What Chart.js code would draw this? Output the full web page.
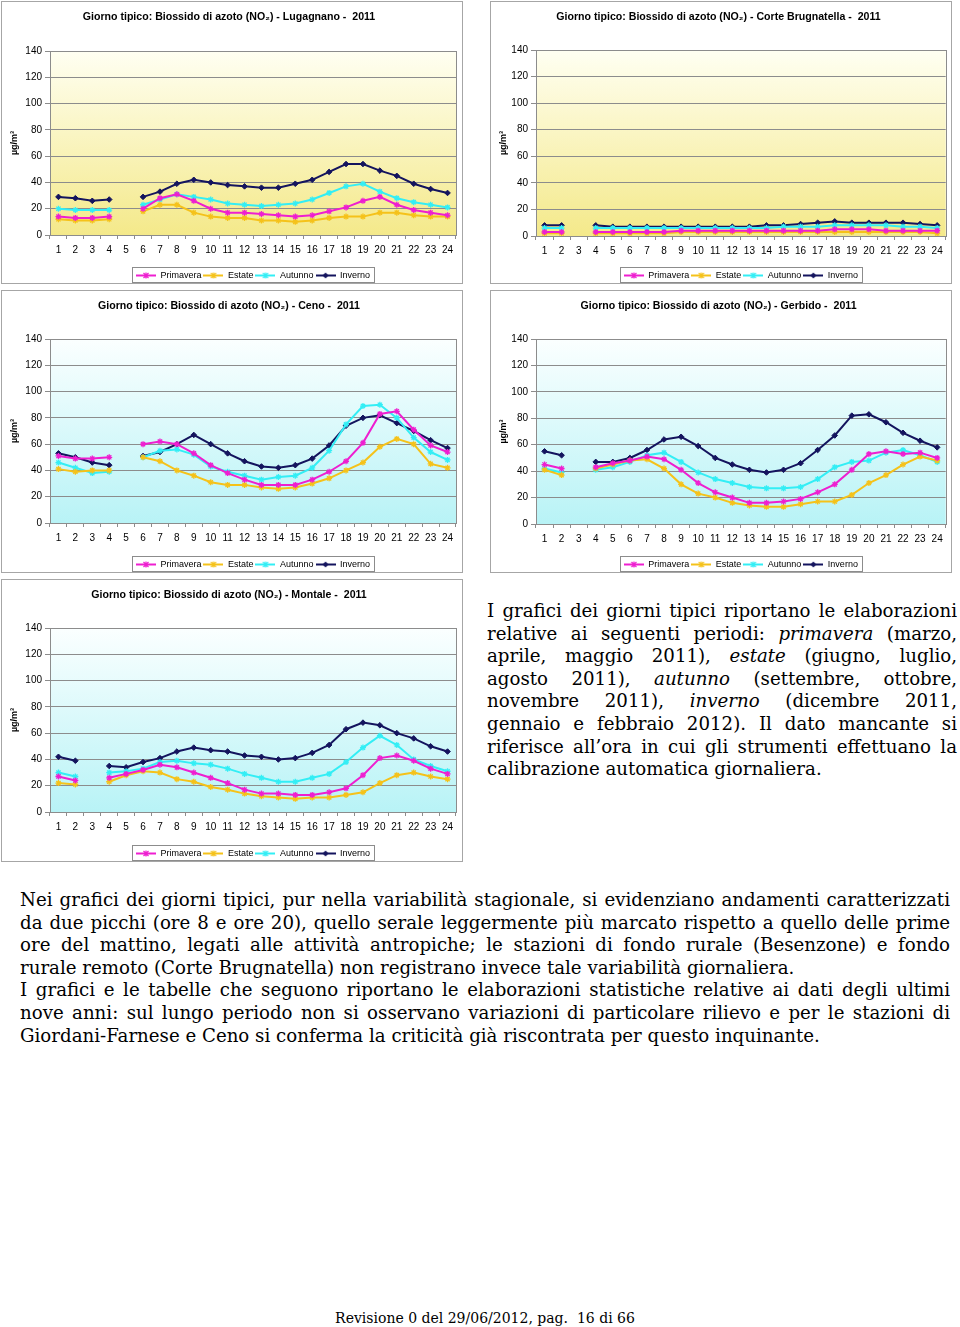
<!DOCTYPE html>
<html lang="it">
<head>
  <meta charset="UTF-8" />
  <title>Giorno tipico: Biossido di azoto (NO2) - 2011</title>
  <script src="https://cdn.jsdelivr.net/npm/chart.js"></script>
  <style>
    body {
      margin: 0;
      width: 960px;
      height: 1327px;
      position: relative;
      background: #fff;
      color: #000;
      font-family: 'DejaVu Serif', serif;
    }

    .panel {
      position: absolute;
      border: 1px solid #a6a6a6;
      background: #fff;
    }

    .panel canvas {
      display: block;
    }

    .testo {
      position: absolute;
      font-size: 18.2px;
      line-height: 22.6px;
    }

    .testo div {
      text-align: justify;
      text-align-last: justify;
    }

    .testo div.ultima {
      text-align-last: left;
    }

    .piede {
      position: absolute;
      left: 0;
      width: 970px;
      top: 1309px;
      text-align: center;
      font-size: 14px;
      line-height: 18px;
    }
  </style>
</head>
<body>
  <div class="panel" style="left:1px; top:1px;"><canvas id="lugagnano" width="460" height="281"></canvas></div>
  <div class="panel" style="left:490px; top:1px;"><canvas id="corte" width="460" height="281"></canvas></div>
  <div class="panel" style="left:1px; top:290px;"><canvas id="ceno" width="460" height="281"></canvas></div>
  <div class="panel" style="left:490px; top:290px;"><canvas id="gerbido" width="460" height="281"></canvas></div>
  <div class="panel" style="left:1px; top:579px;"><canvas id="montale" width="460" height="281"></canvas></div>

  <div class="testo" style="left:487px; top:600px; width:470px;">
    <div>I grafici dei giorni tipici riportano le elaborazioni</div>
    <div>relative ai seguenti periodi: <i>primavera</i> (marzo,</div>
    <div>aprile, maggio 2011), <i>estate</i> (giugno, luglio,</div>
    <div>agosto 2011), <i>autunno</i> (settembre, ottobre,</div>
    <div>novembre 2011), <i>inverno</i> (dicembre 2011,</div>
    <div>gennaio e febbraio 2012). Il dato mancante si</div>
    <div>riferisce all’ora in cui gli strumenti effettuano la</div>
    <div class="ultima">calibrazione automatica giornaliera.</div>
  </div>

  <div class="testo" style="left:20px; top:889px; width:930px;">
    <div>Nei grafici dei giorni tipici, pur nella variabilità stagionale, si evidenziano andamenti caratterizzati</div>
    <div>da due picchi (ore 8 e ore 20), quello serale leggermente più marcato rispetto a quello delle prime</div>
    <div>ore del mattino, legati alle attività antropiche; le stazioni di fondo rurale (Besenzone) e fondo</div>
    <div class="ultima">rurale remoto (Corte Brugnatella) non registrano invece tale variabilità giornaliera.</div>
    <div>I grafici e le tabelle che seguono riportano le elaborazioni statistiche relative ai dati degli ultimi</div>
    <div>nove anni: sul lungo periodo non si osservano variazioni di particolare rilievo e per le stazioni di</div>
    <div class="ultima">Giordani-Farnese e Ceno si conferma la criticità già riscontrata per questo inquinante.</div>
  </div>

  <div class="piede">Revisione 0 del 29/06/2012, pag.&nbsp; 16 di 66</div>

  <script>
    const ore = ['1','2','3','4','5','6','7','8','9','10','11','12','13','14','15','16','17','18','19','20','21','22','23','24'];
    const stagioni = ['Primavera', 'Estate', 'Autunno', 'Inverno'];
    const colori = ['#ee1fd0', '#f5c21a', '#33eef5', '#14145e'];

    // Lugagnano (manca l'ora 5)
    const lugPrimavera = [14, 13, 13, 14, null, 20, 28, 31, 26, 20, 17, 17, 16, 15, 14, 15, 18, 21, 26, 29, 23, 19, 17, 15];
    const lugEstate    = [12, 11, 11, 12, null, 18, 23, 23, 17, 14, 13, 13, 11, 11, 10, 11, 13, 14, 14, 17, 17, 15, 14, 14];
    const lugAutunno   = [20, 19, 19, 19, null, 23, 27, 31, 29, 27, 24, 23, 22, 23, 24, 27, 32, 37, 39, 33, 28, 25, 23, 21];
    const lugInverno   = [29, 28, 26, 27, null, 29, 33, 39, 42, 40, 38, 37, 36, 36, 39, 42, 48, 54, 54, 49, 45, 39, 35, 32];

    // Corte Brugnatella (manca l'ora 3)
    const corPrimavera = [3, 3, null, 3, 3, 3, 3, 3, 4, 4, 4, 4, 4, 4, 4, 4, 4, 5, 5, 5, 4, 4, 4, 4];
    const corEstate    = [2, 2, null, 2, 2, 2, 2, 2, 3, 3, 3, 3, 3, 3, 3, 3, 3, 3, 3, 3, 3, 3, 3, 2];
    const corAutunno   = [6, 6, null, 6, 6, 6, 6, 6, 6, 6, 6, 6, 6, 6, 7, 7, 7, 8, 8, 8, 8, 7, 7, 6];
    const corInverno   = [8, 8, null, 8, 7, 7, 7, 7, 7, 7, 7, 7, 7, 8, 8, 9, 10, 11, 10, 10, 10, 10, 9, 8];

    // Ceno (manca l'ora 5)
    const cenPrimavera = [51, 49, 49, 50, null, 60, 62, 60, 53, 44, 38, 33, 29, 29, 29, 33, 39, 47, 61, 83, 85, 71, 59, 54];
    const cenEstate    = [41, 39, 40, 40, null, 50, 47, 40, 36, 31, 29, 29, 27, 26, 27, 30, 34, 40, 46, 58, 64, 60, 45, 42];
    const cenAutunno   = [46, 42, 38, 39, null, 50, 55, 56, 52, 43, 39, 36, 33, 35, 36, 42, 55, 75, 89, 90, 80, 65, 54, 48];
    const cenInverno   = [53, 50, 46, 44, null, 51, 54, 60, 67, 60, 53, 47, 43, 42, 44, 49, 59, 74, 80, 82, 76, 70, 63, 57];

    // Gerbido (manca l'ora 3)
    const gerPrimavera = [45, 42, null, 43, 46, 48, 51, 49, 41, 31, 24, 20, 16, 16, 17, 19, 24, 30, 41, 53, 55, 53, 54, 50];
    const gerEstate    = [41, 37, null, 42, 45, 48, 49, 42, 30, 23, 20, 16, 14, 13, 13, 15, 17, 17, 22, 31, 37, 45, 51, 48];
    const gerAutunno   = [42, 39, null, 41, 43, 47, 52, 54, 47, 39, 34, 31, 28, 27, 27, 28, 34, 43, 47, 48, 54, 56, 52, 47];
    const gerInverno   = [55, 52, null, 47, 47, 50, 56, 64, 66, 59, 50, 45, 41, 39, 41, 46, 56, 67, 82, 83, 77, 69, 63, 58];

    // Montale (manca l'ora 3)
    const monPrimavera = [27, 24, null, 26, 29, 32, 36, 34, 30, 26, 22, 17, 14, 14, 13, 13, 15, 18, 28, 41, 43, 39, 33, 29];
    const monEstate    = [22, 21, null, 23, 28, 31, 30, 25, 23, 19, 17, 14, 12, 11, 10, 11, 11, 13, 15, 22, 28, 30, 27, 25];
    const monAutunno   = [30, 27, null, 30, 31, 33, 38, 39, 37, 36, 33, 29, 26, 23, 23, 26, 29, 38, 49, 58, 51, 40, 35, 31];
    const monInverno   = [42, 39, null, 35, 34, 38, 41, 46, 49, 47, 46, 43, 42, 40, 41, 45, 51, 63, 68, 66, 60, 56, 50, 46];

    const SANS = "'Liberation Sans', Arial, sans-serif";
    const stiliPunto = ['star', 'star', 'star', 'rectRot'];

    // icone della legenda: tratto di linea con marcatore al centro
    function iconaLegenda(colore, diamante) {
      const c = document.createElement('canvas');
      c.width = 20; c.height = 7;
      const g = c.getContext('2d');
      g.strokeStyle = colore;
      g.fillStyle = colore;
      g.lineWidth = 2;
      g.beginPath(); g.moveTo(0, 3.5); g.lineTo(20, 3.5); g.stroke();
      if (diamante) {
        g.beginPath(); g.moveTo(10, 0.5); g.lineTo(13, 3.5); g.lineTo(10, 6.5); g.lineTo(7, 3.5); g.closePath(); g.fill();
      } else {
        g.lineWidth = 1.2;
        g.beginPath();
        g.moveTo(7.5, 1); g.lineTo(12.5, 6); g.moveTo(12.5, 1); g.lineTo(7.5, 6);
        g.moveTo(10, 0.5); g.lineTo(10, 6.5); g.moveTo(7, 3.5); g.lineTo(13, 3.5);
        g.stroke();
      }
      return c;
    }
    const icone = colori.map((c, i) => iconaLegenda(c, i === 3));

    // sfondo sfumato dell'area del grafico + cornice grigia
    const sfondoPlugin = {
      id: 'sfondo',
      beforeDraw(chart, args, opts) {
        const { ctx, chartArea: a } = chart;
        const grad = ctx.createLinearGradient(0, a.top, 0, a.bottom);
        grad.addColorStop(0, opts.alto);
        grad.addColorStop(1, opts.basso);
        ctx.save();
        ctx.fillStyle = grad;
        ctx.fillRect(a.left, a.top, a.right - a.left, a.bottom - a.top);
        ctx.restore();
      },
      beforeDatasetsDraw(chart) {
        const { ctx, chartArea: a } = chart;
        ctx.save();
        ctx.strokeStyle = '#8c8c8c';
        ctx.lineWidth = 1;
        ctx.strokeRect(Math.round(a.left) + 0.5, Math.round(a.top) + 0.5, Math.round(a.right - a.left), Math.round(a.bottom - a.top));
        ctx.restore();
      },
      afterDraw(chart) {
        // riquadro attorno alla legenda
        const lg = chart.legend;
        if (!lg || !lg.legendHitBoxes.length) return;
        const boxes = lg.legendHitBoxes;
        const x0 = Math.min(...boxes.map(b => b.left)) - 4;
        const x1 = Math.max(...boxes.map(b => b.left + b.width)) + 4;
        const ctx = chart.ctx;
        ctx.save();
        ctx.strokeStyle = '#8c8c8c';
        ctx.lineWidth = 1;
        ctx.strokeRect(Math.round(x0) + 0.5, Math.round(lg.top) - 1.5, Math.round(x1 - x0), 15);
        ctx.restore();
      }
    };

    function disegna(id, titolo, serie, area, alto, basso) {
      const canvas = document.getElementById(id);
      const H = canvas.height;
      new Chart(canvas, {
        type: 'line',
        data: {
          labels: ore,
          datasets: serie.map((d, i) => ({
            label: stagioni[i],
            data: d,
            borderColor: colori[i],
            backgroundColor: colori[i],
            borderWidth: 2,
            pointStyle: stiliPunto[i],
            pointRadius: i === 3 ? 2.8 : 3,
            pointBorderWidth: i === 3 ? 1 : 1.3,
            pointBorderColor: colori[i],
            pointBackgroundColor: colori[i],
            spanGaps: false,
            tension: 0
          }))
        },
        options: {
          responsive: false,
          animation: false,
          layout: { padding: { left: 0, right: canvas.width - area.right, top: 0, bottom: 0 } },
          plugins: {
            title: {
              display: true,
              text: titolo,
              color: '#000',
              font: { family: SANS, size: 10.6, weight: 'bold' },
              padding: { top: 9, bottom: area.top - 9 - 12.72 }
            },
            legend: {
              position: 'bottom',
              fullSize: false,
              maxHeight: 14,
              labels: {
                usePointStyle: true,
                pointStyleWidth: 20,
                padding: 2,
                color: '#000',
                font: { family: SANS, size: 9 },
                generateLabels(chart) {
                  const items = Chart.defaults.plugins.legend.labels.generateLabels(chart);
                  items.forEach((it, i) => { it.pointStyle = icone[i]; });
                  return items;
                }
              }
            },
            tooltip: { enabled: false },
            sfondo: { alto: alto, basso: basso }
          },
          scales: {
            x: {
              offset: true,
              grid: { offset: true, drawOnChartArea: false, tickLength: 4, color: '#8c8c8c' },
              border: { color: '#8c8c8c' },
              ticks: { color: '#000', font: { family: SANS, size: 10 }, padding: 5, maxRotation: 0, autoSkip: false },
              afterFit(s) { s.height = H - 14 - area.bottom; }
            },
            y: {
              min: 0,
              max: 140,
              ticks: { stepSize: 20, color: '#000', font: { family: SANS, size: 10 }, padding: 3 },
              grid: { color: '#8c8c8c', tickLength: 5 },
              border: { color: '#8c8c8c' },
              title: {
                display: true,
                text: 'µg/m³',
                color: '#000',
                font: { family: SANS, size: 9, weight: 'bold' },
                padding: { top: 7.5, bottom: 0 }
              },
              afterFit(s) { s.width = area.left; }
            }
          }
        },
        plugins: [sfondoPlugin]
      });
    }

    const GIALLO = ['#fffff2', '#f4e98a'];
    const CIANO = ['#fbffff', '#b8f3f6'];

    disegna('lugagnano', 'Giorno tipico: Biossido di azoto (NO₂) - Lugagnano -  2011',
      [lugPrimavera, lugEstate, lugAutunno, lugInverno], { left: 48, right: 454, top: 49, bottom: 233 }, GIALLO[0], GIALLO[1]);
    disegna('corte', 'Giorno tipico: Biossido di azoto (NO₂) - Corte Brugnatella -  2011',
      [corPrimavera, corEstate, corAutunno, corInverno], { left: 45, right: 455, top: 48, bottom: 234 }, GIALLO[0], GIALLO[1]);
    disegna('ceno', 'Giorno tipico: Biossido di azoto (NO₂) - Ceno -  2011',
      [cenPrimavera, cenEstate, cenAutunno, cenInverno], { left: 48, right: 454, top: 48, bottom: 232 }, CIANO[0], CIANO[1]);
    disegna('gerbido', 'Giorno tipico: Biossido di azoto (NO₂) - Gerbido -  2011',
      [gerPrimavera, gerEstate, gerAutunno, gerInverno], { left: 45, right: 455, top: 48, bottom: 233 }, CIANO[0], CIANO[1]);
    disegna('montale', 'Giorno tipico: Biossido di azoto (NO₂) - Montale -  2011',
      [monPrimavera, monEstate, monAutunno, monInverno], { left: 48, right: 454, top: 48, bottom: 232 }, CIANO[0], CIANO[1]);
  </script>
</body>
</html>
